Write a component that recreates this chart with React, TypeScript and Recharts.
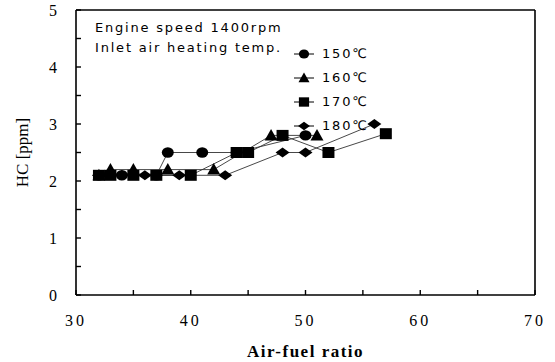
import { Legend, Line, LineChart, ReferenceLine, XAxis, YAxis } from "recharts";

// readings (air-fuel ratio, HC ppm)
const hc150 = [
  { x: 32, y: 2.1 },
  { x: 34, y: 2.1 },
  { x: 37, y: 2.1 },
  { x: 38, y: 2.5 },
  { x: 41, y: 2.5 },
  { x: 44, y: 2.5 },
  { x: 50, y: 2.8 },
];
const hc160 = [
  { x: 32, y: 2.1 },
  { x: 33, y: 2.2 },
  { x: 35, y: 2.2 },
  { x: 38, y: 2.2 },
  { x: 42, y: 2.2 },
  { x: 47, y: 2.8 },
  { x: 51, y: 2.8 },
];
const hc170 = [
  { x: 32, y: 2.1 },
  { x: 33, y: 2.1 },
  { x: 35, y: 2.1 },
  { x: 37, y: 2.1 },
  { x: 40, y: 2.1 },
  { x: 44, y: 2.5 },
  { x: 45, y: 2.5 },
  { x: 48, y: 2.8 },
  { x: 52, y: 2.5 },
  { x: 57, y: 2.83 },
];
const hc180 = [
  { x: 32, y: 2.1 },
  { x: 34, y: 2.1 },
  { x: 36, y: 2.1 },
  { x: 39, y: 2.1 },
  { x: 43, y: 2.1 },
  { x: 48, y: 2.5 },
  { x: 50, y: 2.5 },
  { x: 56, y: 3.0 },
];

const xTicks = [30, 35, 40, 45, 50, 55, 60, 65, 70];
const yTicks = [0, 0.5, 1, 1.5, 2, 2.5, 3, 3.5, 4, 4.5, 5];

const seriesNames = ["150℃", "160℃", "170℃", "180℃"];
const noteLines = ["Engine speed 1400rpm", "Inlet air heating temp."];

type Kind = "circle" | "triangle" | "square" | "diamond";

const series: { name: string; data: { x: number; y: number }[]; kind: Kind }[] = [
  { name: seriesNames[0], data: hc150, kind: "circle" },
  { name: seriesNames[1], data: hc160, kind: "triangle" },
  { name: seriesNames[2], data: hc170, kind: "square" },
  { name: seriesNames[3], data: hc180, kind: "diamond" },
];

const Marker = ({ cx, cy, kind, s = 1 }: { cx: number; cy: number; kind: Kind; s?: number }) => {
  if (cx == null || cy == null) return null;
  if (kind === "circle") return <ellipse cx={cx} cy={cy} rx={6 * s} ry={5.2 * s} fill="#000" />;
  if (kind === "triangle")
    return (
      <polygon
        points={`${cx},${cy - 6.5 * s} ${cx - 6.5 * s},${cy + 5 * s} ${cx + 6.5 * s},${cy + 5 * s}`}
        fill="#000"
      />
    );
  if (kind === "square")
    return <rect x={cx - 6 * s} y={cy - 5.5 * s} width={12 * s} height={11 * s} fill="#000" />;
  return (
    <polygon
      points={`${cx},${cy - 5 * s} ${cx + 7 * s},${cy} ${cx},${cy + 5 * s} ${cx - 7 * s},${cy}`}
      fill="#000"
    />
  );
};

const sans = "'DejaVu Sans', sans-serif";
const serif = "'Liberation Serif', 'Times New Roman', serif";

const Notes = () => (
  <div style={{ position: "relative", width: 555, height: 140, fontFamily: sans, fontSize: 13, letterSpacing: 1.8, color: "#000" }}>
    {noteLines.map((t, i) => (
      <div key={t} style={{ position: "absolute", left: 95, top: 19 + i * 20, lineHeight: "18px", whiteSpace: "nowrap" }}>
        {t}
      </div>
    ))}
    {series.map((s, i) => (
      <div key={s.name} style={{ position: "absolute", left: 293, top: 45 + i * 24, height: 18, display: "flex", alignItems: "center" }}>
        <svg width={22} height={14} style={{ marginRight: 7 }}>
          <line x1={1} y1={7} x2={21} y2={7} stroke="#000" strokeWidth={1} />
          <Marker cx={11} cy={7} kind={s.kind} s={0.85} />
        </svg>
        <span style={{ lineHeight: "18px" }}>{s.name}</span>
      </div>
    ))}
  </div>
);

const YTitle = ({ viewBox }: any) => {
  const x = viewBox.x + 12;
  const y = viewBox.y + viewBox.height / 2;
  return (
    <text x={x} y={y} transform={`rotate(-90 ${x} ${y})`} textAnchor="middle" dominantBaseline="central" fontFamily={serif} fontSize={17} fill="#000">
      HC [ppm]
    </text>
  );
};

const XTitle = ({ viewBox }: any) => {
  const x = viewBox.x + viewBox.width / 2;
  return (
    <text x={x} y={357} textAnchor="middle" fontFamily={serif} fontSize={17} fontWeight="bold" letterSpacing={1.5} fill="#000">
      Air-fuel ratio
    </text>
  );
};

const App = () => {
  return (
    <div style={{ position: "fixed", left: 0, top: 0, width: 555, height: 362, background: "#fff" }}>
      <LineChart width={555} height={362} margin={{ top: 10, right: 20, left: 10, bottom: 0 }}>
        <XAxis
          type="number"
          dataKey="x"
          domain={[30, 70]}
          ticks={xTicks}
          interval={0}
          allowDataOverflow
          tickFormatter={(v: number) => (v % 10 === 0 ? String(v) : "")}
          tickSize={-5}
          tickMargin={25}
          height={67}
          axisLine={{ stroke: "#000", strokeWidth: 1.6 }}
          tickLine={{ stroke: "#000", strokeWidth: 1.4 }}
          tick={{ fill: "#000", fontSize: 16, fontFamily: serif, letterSpacing: 3 }}
          label={<XTitle />}
        />
        <YAxis
          type="number"
          domain={[0, 5]}
          ticks={yTicks}
          interval={0}
          allowDataOverflow
          tickFormatter={(v: number) => (Number.isInteger(v) ? String(v) : "")}
          tickSize={-5}
          tickMargin={24}
          width={66}
          axisLine={{ stroke: "#000", strokeWidth: 1.6 }}
          tickLine={{ stroke: "#000", strokeWidth: 1.4 }}
          tick={{ fill: "#000", fontSize: 16, fontFamily: serif }}
          label={<YTitle />}
        />
        <ReferenceLine y={5} stroke="#000" strokeWidth={1.4} />
        <ReferenceLine x={70} stroke="#000" strokeWidth={1.6} />
        {series.map((s) => (
          <Line
            key={s.name}
            name={s.name}
            data={s.data}
            dataKey="y"
            type="linear"
            stroke="#333"
            strokeWidth={0.9}
            isAnimationActive={false}
            dot={(p: any) => <Marker key={`${s.kind}-${p.index}`} cx={p.cx} cy={p.cy} kind={s.kind} />}
            activeDot={false}
          />
        ))}
        <Legend
          layout="horizontal"
          verticalAlign="middle"
          align="center"
          content={() => <Notes />}
          wrapperStyle={{ position: "absolute", left: 0, top: 0, width: 555, height: 140 }}
        />
      </LineChart>
    </div>
  );
};

export default App;
